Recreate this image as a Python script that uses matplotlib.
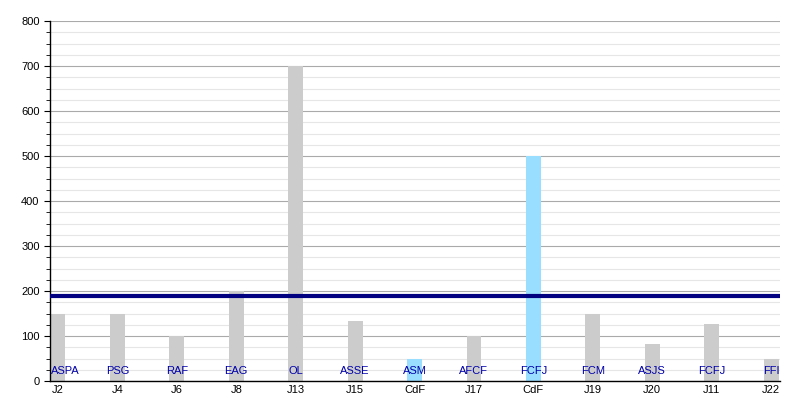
import matplotlib
matplotlib.use("Agg")
import matplotlib.pyplot as plt
from matplotlib.ticker import MultipleLocator

plt.rcParams['font.family'] = ['Liberation Sans', 'DejaVu Sans']

categories = ["J2", "J4", "J6", "J8", "J13", "J15", "CdF", "J17", "CdF", "J19", "J20", "J11", "J22"]
teams = ["ASPA", "PSG", "RAF", "EAG", "OL", "ASSE", "ASM", "AFCF", "FCFJ", "FCM", "ASJS", "FCFJ", "FFI"]
values = [150, 150, 100, 200, 700, 133, 50, 100, 500, 150, 82, 127, 50]
is_cup = [False, False, False, False, False, False, True, False, True, False, False, False, False]
average = 190

fig = plt.figure(figsize=(8, 4), dpi=100)
ax = fig.add_axes([0.0625, 0.0475, 0.9125, 0.9])

bar_w = 0.25
x = list(range(len(categories)))
colors = ["#99ddff" if c else "#cccccc" for c in is_cup]
ax.bar(x, values, width=bar_w, color=colors, zorder=2)
ax.axhline(average, color="#000080", linewidth=3, zorder=3)

for i, (xi, t) in enumerate(zip(x, teams)):
    if i == 0:
        ax.text(xi - bar_w / 2, 22, t, ha="left", va="center", color="#0000aa", fontsize=8, zorder=4)
    else:
        ax.text(xi, 22, t, ha="center", va="center", color="#0000aa", fontsize=8, zorder=4)

ax.set_xlim(-0.135, len(categories) - 1 + 0.15)
ax.set_ylim(0, 800)
ax.set_xticks(x)
ax.set_xticklabels(categories, fontsize=8)
ax.yaxis.set_major_locator(MultipleLocator(100))
ax.yaxis.set_minor_locator(MultipleLocator(25))
ax.tick_params(axis='y', which='major', labelsize=8, length=4, direction='out')
ax.tick_params(axis='y', which='minor', length=3, direction='out')
ax.tick_params(axis='x', length=0, pad=3)
ax.grid(axis='y', which='major', color="#aaaaaa", linewidth=0.8, zorder=0)
ax.grid(axis='y', which='minor', color="#e6e6e6", linewidth=0.8, zorder=0)
ax.set_axisbelow(True)
for s in ["top", "right"]:
    ax.spines[s].set_visible(False)
ax.spines["left"].set_linewidth(1)
ax.spines["bottom"].set_linewidth(1)

fig.savefig("out.png", dpi=100)
